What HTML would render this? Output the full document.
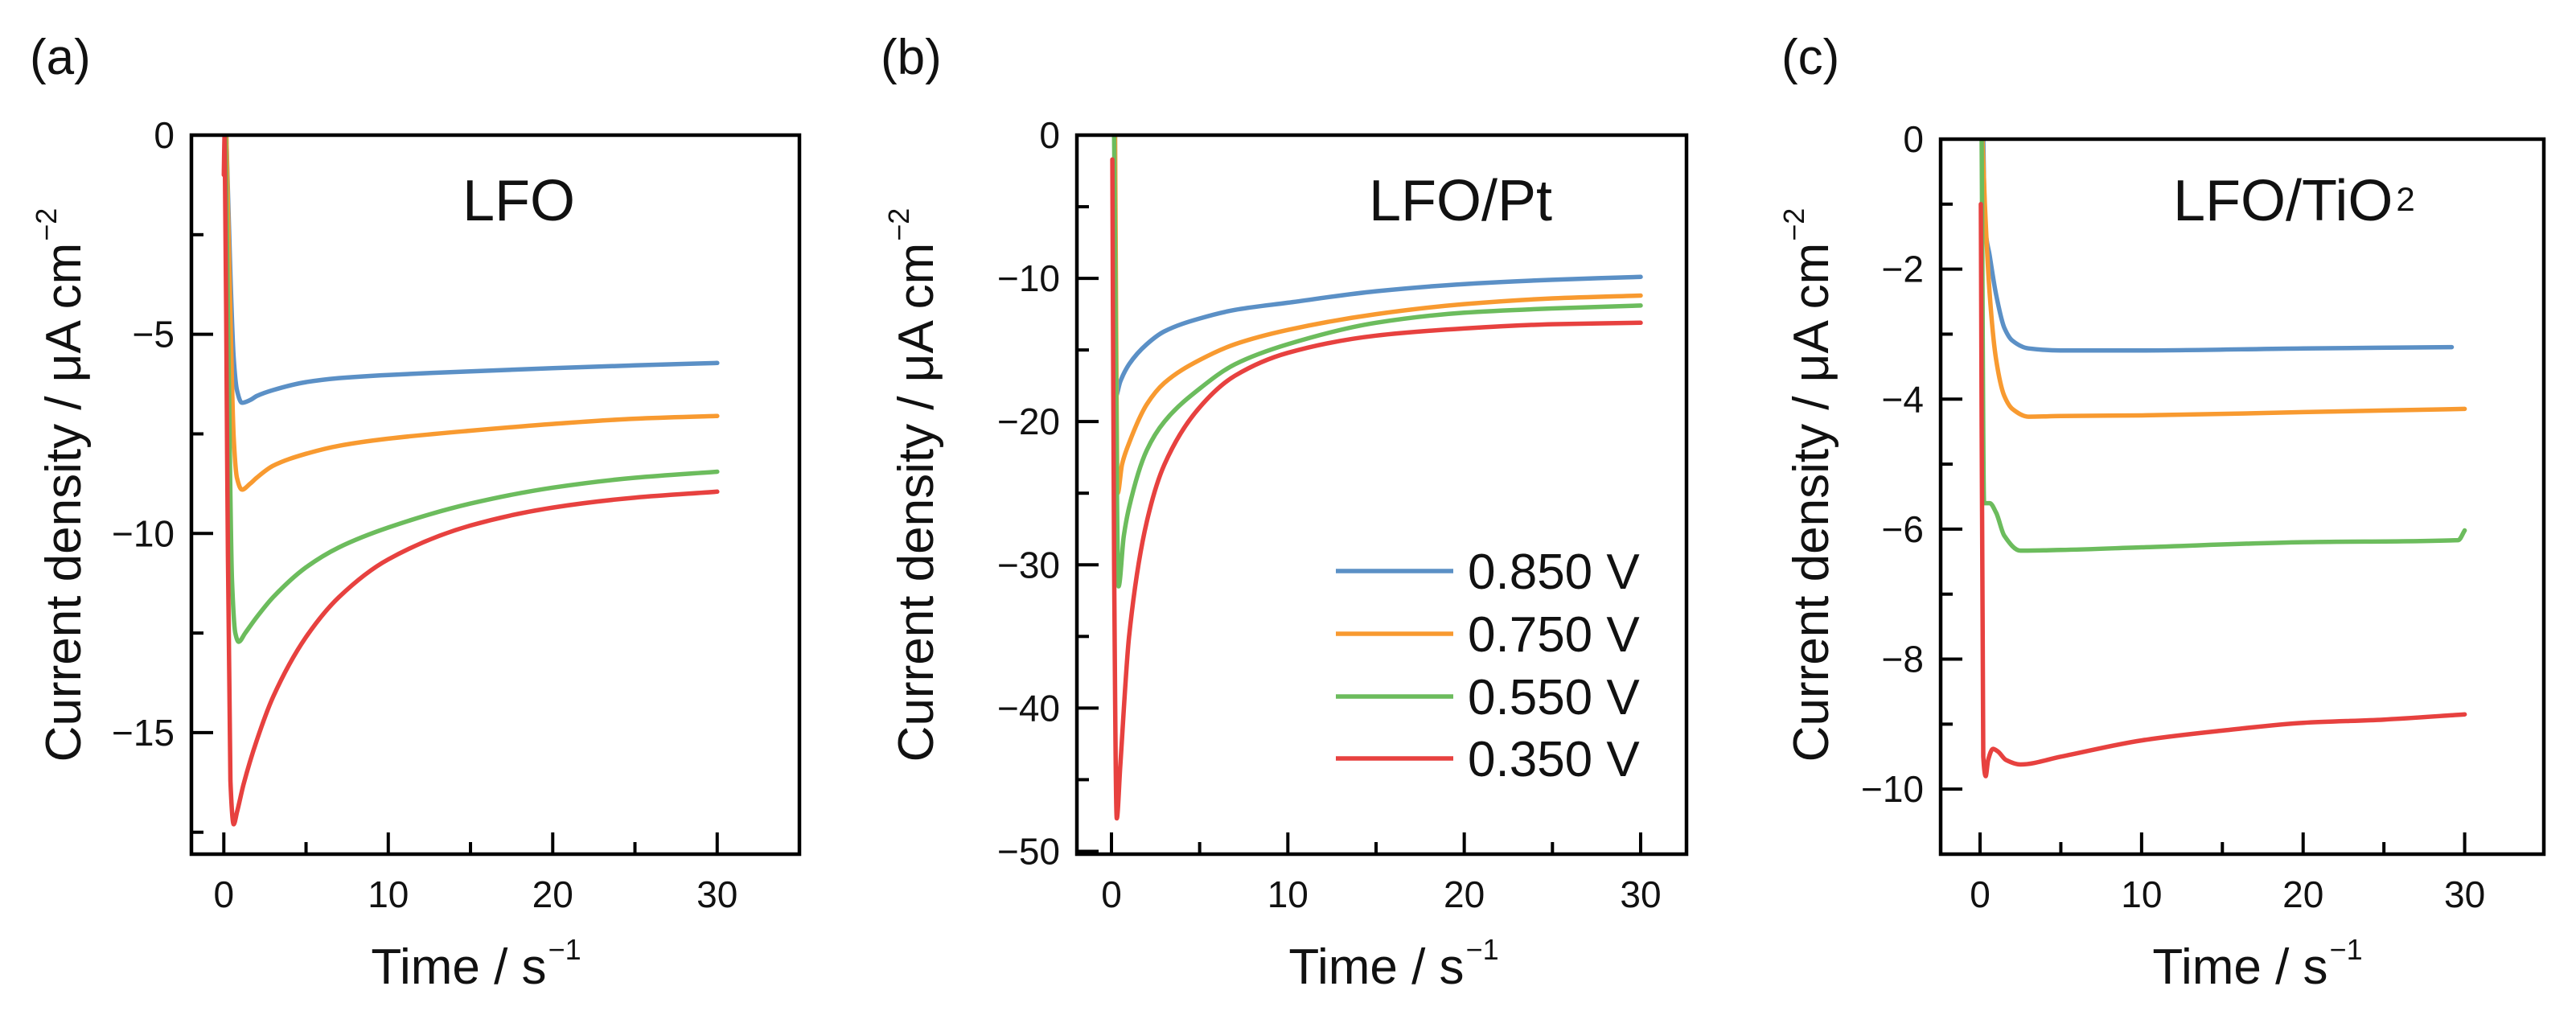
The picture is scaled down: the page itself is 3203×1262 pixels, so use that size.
<!DOCTYPE html>
<html><head><meta charset="utf-8">
<style>
html,body{margin:0;padding:0;background:#fff;}
svg{display:block;font-family:"Liberation Sans",Arial,sans-serif;}
</style></head>
<body>
<svg id="fig" width="3203" height="1262" viewBox="0 0 3203 1262" xmlns="http://www.w3.org/2000/svg"></svg>
<script>
// ---- data ----
const seriesLabels = ["0.850 V","0.750 V","0.550 V","0.350 V"];
const seriesColors = ["#5b90c6","#f89a30","#6cbc5d","#e7413f"];

const aBlueT = [0.15,0.4,0.6,0.8,1.1,1.6,2,3,5,7,10,15,20,25,30];
const aBlueV = [0,-3.5,-5.6,-6.4,-6.72,-6.65,-6.55,-6.4,-6.2,-6.1,-6.02,-5.93,-5.85,-5.78,-5.72];
const aOrangeT = [0.15,0.4,0.6,0.8,1.1,1.6,2,3,5,7,10,15,20,25,30];
const aOrangeV = [0,-4.5,-7.6,-8.6,-8.9,-8.75,-8.6,-8.3,-8.0,-7.8,-7.62,-7.42,-7.25,-7.12,-7.05];
const aGreenT = [0.1,0.3,0.5,0.7,0.9,1.3,2,3,5,7,10,15,20,25,30];
const aGreenV = [0,-6,-11.2,-12.5,-12.72,-12.5,-12.1,-11.6,-10.85,-10.35,-9.85,-9.25,-8.85,-8.6,-8.45];
const aRedT = [0,0.05,0.2,0.4,0.6,0.8,1.2,2,3,5,7,10,15,20,25,30];
const aRedV = [-1,0,-8,-16.2,-17.3,-17.0,-16.3,-15.2,-14.1,-12.6,-11.6,-10.65,-9.8,-9.35,-9.1,-8.95];

const bBlueT = [0.2,0.22,0.5,1,2,3,5,7,10,15,20,25,30];
const bBlueV = [0,-18.3,-17.2,-16,-14.6,-13.7,-12.8,-12.2,-11.7,-10.9,-10.4,-10.1,-9.9];
const bOrangeT = [0.2,0.35,0.6,1,2,3,5,7,10,15,20,25,30];
const bOrangeV = [0,-25,-23,-21.5,-18.8,-17.3,-15.7,-14.6,-13.6,-12.5,-11.8,-11.4,-11.2];
const bGreenT = [0.15,0.4,0.7,1,2,3,5,7,10,15,20,25,30];
const bGreenV = [0,-31.5,-28,-26,-22,-20,-17.7,-16,-14.6,-13.1,-12.4,-12.1,-11.9];
const bRedT = [0.05,0.15,0.3,0.5,1,2,3,5,7,10,15,20,25,30];
const bRedV = [-1.7,-30,-47.7,-44,-35,-27,-23,-19,-16.8,-15.2,-14,-13.5,-13.2,-13.1];

const cBlueT = [0.2,0.3,0.6,1,1.5,2,3,5,10,20,29.2];
const cBlueV = [0,-1.3,-1.8,-2.4,-2.9,-3.1,-3.22,-3.25,-3.25,-3.22,-3.2];
const cOrangeT = [0.15,0.3,0.6,1,1.5,2,3,5,10,20,30];
const cOrangeV = [0,-1.0,-2.4,-3.4,-3.95,-4.15,-4.27,-4.26,-4.25,-4.2,-4.15];
const cGreenT = [0.1,0.25,0.6,1,1.5,2.5,5,10,20,29.6,30];
const cGreenV = [0,-5.6,-5.6,-5.75,-6.1,-6.33,-6.32,-6.28,-6.2,-6.17,-6.02];
const cRedT = [0.05,0.2,0.35,0.5,0.8,1.1,1.6,2.5,5,10,15,20,25,30];
const cRedV = [-1.0,-9.5,-9.8,-9.55,-9.38,-9.42,-9.55,-9.62,-9.5,-9.25,-9.1,-8.98,-8.93,-8.85];

const xTicksMajor = [0,10,20,30];
const xTicksMinor = [5,15,25];
const aYMajor = [0,-5,-10,-15];
const aYMinor = [-2.5,-7.5,-12.5,-17.5];
const bYMajor = [0,-10,-20,-30,-40,-50];
const bYMinor = [-5,-15,-25,-35,-45];
const cYMajor = [0,-2,-4,-6,-8,-10];
const cYMinor = [-1,-3,-5,-7,-9];
const cYLabels = ["0","\u22122","\u22124","\u22126","\u22128","\u221210"];

// ---- rendering ----
const NS = "http://www.w3.org/2000/svg";
const svg = document.getElementById('fig');
function el(tag, attrs, parent, text){
  const e = document.createElementNS(NS, tag);
  for (const k in attrs) e.setAttribute(k, attrs[k]);
  if (text !== undefined) e.textContent = text;
  (parent||svg).appendChild(e);
  return e;
}
function fmt(v){ return v < 0 ? "\u2212" + Math.abs(v) : String(v); }
// monotone cubic path through pixel points (Fritsch-Carlson)
function monoPath(xs, ys){
  const n = xs.length;
  if (n < 2) return "";
  const d = [], m = new Array(n);
  for (let i=0;i<n-1;i++) d.push((ys[i+1]-ys[i])/(xs[i+1]-xs[i]));
  m[0]=d[0]; m[n-1]=d[n-2];
  for (let i=1;i<n-1;i++){
    if (d[i-1]*d[i] <= 0) m[i]=0;
    else { const w1=2*(xs[i+1]-xs[i])+(xs[i]-xs[i-1]), w2=(xs[i+1]-xs[i])+2*(xs[i]-xs[i-1]);
      m[i]=(w1+w2)/(w1/d[i-1]+w2/d[i]); }
  }
  let p = "M"+xs[0].toFixed(1)+","+ys[0].toFixed(1);
  for (let i=0;i<n-1;i++){
    const h = (xs[i+1]-xs[i])/3;
    p += "C"+(xs[i]+h).toFixed(1)+","+(ys[i]+m[i]*h).toFixed(1)+" "+(xs[i+1]-h).toFixed(1)+","+(ys[i+1]-m[i+1]*h).toFixed(1)+" "+xs[i+1].toFixed(1)+","+ys[i+1].toFixed(1);
  }
  return p;
}

const panels = [
  {id:"a", letter:"(a)", letterX:37, title:"LFO", titleX:575, box:[238,168,994,1062], xlim:[-1.97,35], ylim:[-18.05,0],
   yMajor:aYMajor, yMinor:aYMinor, yTitleX:100, xTitleX:592,
   series:[[aBlueT,aBlueV],[aOrangeT,aOrangeV],[aGreenT,aGreenV],[aRedT,aRedV]]},
  {id:"b", letter:"(b)", letterX:1095, title:"LFO/Pt", titleX:1702, box:[1339,168,2097,1062], xlim:[-1.96,32.6], ylim:[-50.2,0],
   yMajor:bYMajor, yMinor:bYMinor, yTitleX:1160, xTitleX:1733, legend:true,
   series:[[bBlueT,bBlueV],[bOrangeT,bOrangeV],[bGreenT,bGreenV],[bRedT,bRedV]]},
  {id:"c", letter:"(c)", letterX:2215, title:"LFO/TiO", titleX:2702, box:[2413,173,3163,1062], xlim:[-2.44,34.9], ylim:[-11,0],
   yMajor:cYMajor, yMinor:cYMinor, yLabels:cYLabels, yTitleX:2273, xTitleX:2807, sub:true,
   series:[[cBlueT,cBlueV],[cOrangeT,cOrangeV],[cGreenT,cGreenV],[cRedT,cRedV]]}
];
const seriesNames = ["blue-0850v","orange-0750v","green-0550v","red-0350v"];

panels.forEach(p=>{
  const [L,T,R,B] = p.box;
  const g = el('g',{});
  
  
  const sx = v => L + (v - p.xlim[0])/(p.xlim[1]-p.xlim[0])*(R-L);
  const sy = v => T + (p.ylim[1] - v)/(p.ylim[1]-p.ylim[0])*(B-T);

  const lab = el('text',{x:p.letterX, y:92, 'font-size':62, fill:'#111'}, g, p.letter);
  
  

  const cp = el('clipPath',{id:'clip'+p.id}, g);
  el('rect',{x:L,y:T,width:R-L,height:B-T}, cp);

  p.series.forEach((s,i)=>{
    const [ts,vs] = s;
    const d = monoPath(ts.map(sx), vs.map(sy));
    const path = el('path',{d:d, fill:'none', stroke:seriesColors[i], 'stroke-width':5.5, 'stroke-linejoin':'round','stroke-linecap':'round','clip-path':'url(#clip'+p.id+')'}, g);
    
    
  });

  const fr = el('rect',{x:L,y:T,width:R-L,height:B-T,fill:'none',stroke:'#000','stroke-width':4.5}, g);
  
  

  xTicksMajor.forEach(v=>{
    el('line',{x1:sx(v),x2:sx(v),y1:B,y2:B-27,stroke:'#000','stroke-width':4}, g);
    const t = el('text',{x:sx(v), y:1128, 'font-size':46, 'text-anchor':'middle', fill:'#111'}, g, String(v));
    
    
  });
  xTicksMinor.forEach(v=>{
    el('line',{x1:sx(v),x2:sx(v),y1:B,y2:B-15,stroke:'#000','stroke-width':4}, g);
  });
  p.yMajor.forEach((v,k)=>{
    el('line',{x1:L,x2:L+27,y1:sy(v),y2:sy(v),stroke:'#000','stroke-width':4}, g);
    const txt = p.yLabels ? p.yLabels[k] : fmt(v);
    const t = el('text',{x:L-21, y:sy(v)+16, 'font-size':46, 'text-anchor':'end', fill:'#111'}, g, txt);
    
    
  });
  p.yMinor.forEach(v=>{
    el('line',{x1:L,x2:L+15,y1:sy(v),y2:sy(v),stroke:'#000','stroke-width':4}, g);
  });

  const tt = el('text',{x:p.titleX, y:274, 'font-size':72, fill:'#111'}, g);
  
  
  tt.appendChild(document.createTextNode(p.title));
  if (p.sub){ el('tspan',{'font-size':42, dx:4, dy:-12}, tt, "2"); }

  const xt = el('text',{x:p.xTitleX, y:1223, 'font-size':62, 'text-anchor':'middle', fill:'#111'}, g);
  
  
  xt.appendChild(document.createTextNode("Time / s"));
  el('tspan',{'font-size':36, dy:-30, dx:2}, xt, "\u22121");

  const yt = el('text',{x:0, y:0, 'font-size':62, 'text-anchor':'middle', fill:'#111', transform:'translate('+p.yTitleX+',603) rotate(-90)'}, g);
  
  
  yt.appendChild(document.createTextNode("Current density / \u03bcA cm"));
  el('tspan',{'font-size':36, dy:-30, dx:2}, yt, "\u22122");

  if (p.legend){
    const lg = el('g',{}, g);
    
    
    const rows = [710,788,866,943];
    seriesLabels.forEach((s,i)=>{
      const e = el('g',{}, lg);
      
      
      el('line',{x1:1661,x2:1807,y1:rows[i],y2:rows[i],stroke:seriesColors[i],'stroke-width':5.5}, e);
      el('text',{x:1825,y:rows[i]+22,'font-size':62,fill:'#111'}, e, s);
    });
  }
});
</script>
</body></html>
